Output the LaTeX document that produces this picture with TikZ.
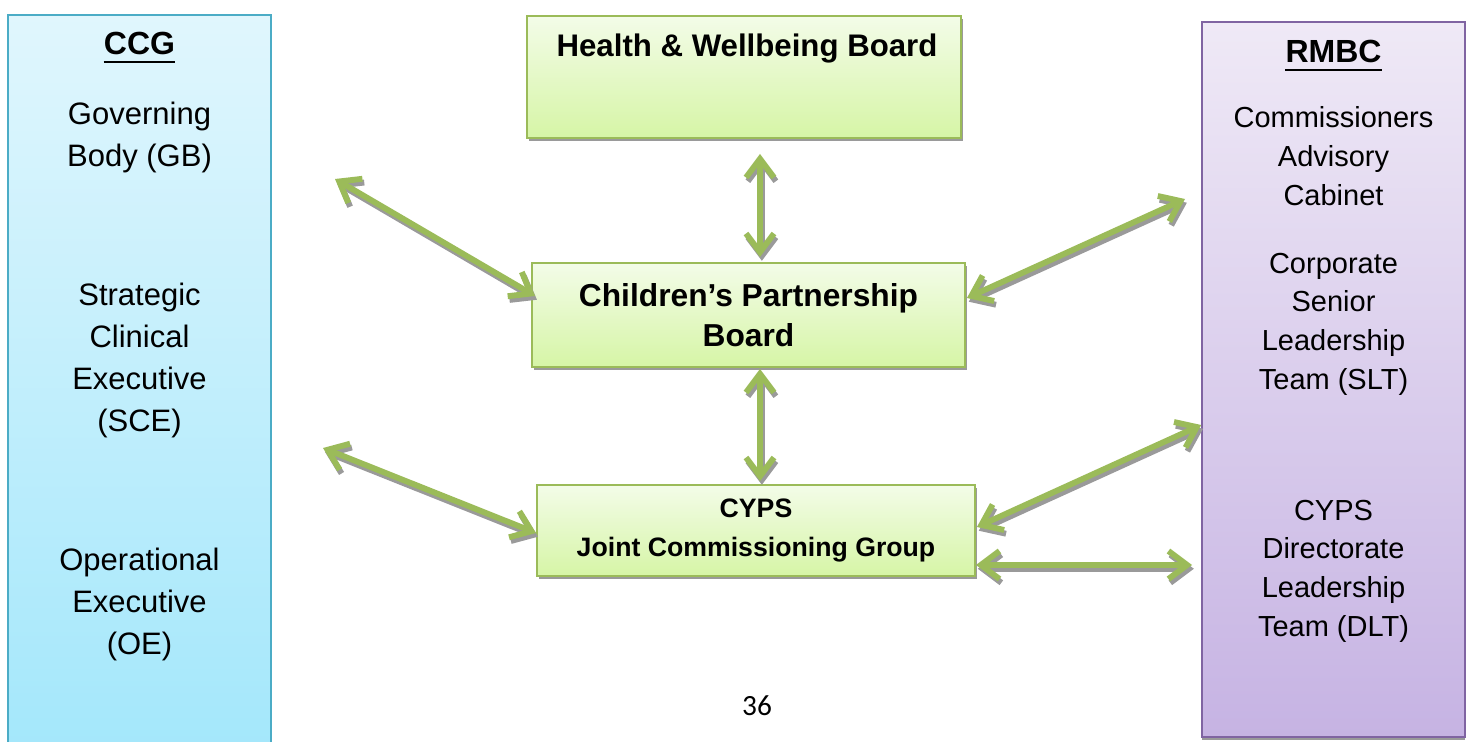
\documentclass[tikz,border=0pt]{standalone}
\usepackage{fontspec}
\setmainfont{Liberation Sans}
\newfontfamily\pagenumfont{Carlito}
\usetikzlibrary{arrows.meta,calc,shadows}

\definecolor{ccgtop}{HTML}{E0F6FD}
\definecolor{ccgbot}{HTML}{A3E7FB}
\definecolor{ccgline}{HTML}{4BACC6}
\definecolor{rmbctop}{HTML}{EFE9F6}
\definecolor{rmbcbot}{HTML}{C6B3E3}
\definecolor{rmbcline}{HTML}{8064A2}
\definecolor{boardtop}{HTML}{F3FCE8}
\definecolor{boardbot}{HTML}{D6F5A6}
\definecolor{boardline}{HTML}{9BBB59}
\definecolor{linkgreen}{HTML}{9BBB59}
\definecolor{shade}{HTML}{9A9A9A}

\tikzset{
  board/.style={draw=boardline, line width=1.4pt, top color=boardtop,
    bottom color=boardbot, inner sep=0pt,
    drop shadow={shadow xshift=1.5pt, shadow yshift=-2.5pt, fill=shade, opacity=1}},
  sidetitle/.style={anchor=base, inner sep=0pt, font=\fontsize{24}{30}\selectfont\bfseries},
  % multi-line nodes are placed by the baseline of their last line
  ccgtext/.style={anchor=base, inner sep=0pt, align=center,
    font=\fontsize{23.25}{31.5}\selectfont},
  rmbctext/.style={anchor=base, inner sep=0pt, align=center,
    font=\fontsize{21.75}{29}\selectfont},
  link/.style={draw=linkgreen, line width=4.4pt,
    {Straight Barb[length=14pt,width=21pt]}-{Straight Barb[length=14pt,width=21pt]}},
  underbar/.style={line width=2.2pt}
}

% All two-way links between the bodies; the argument adds options
% (used once for the grey shadow pass and once for the green links)
\newcommand\drawlinks[1]{%
  \draw[link,#1] (ccgA) -- ($(cpb.west)+(4,-19)$);
  \draw[link,#1] ($(cpb.east)+(1,-17)$) -- (rmbcA);
  \draw[link,#1] ($(hwb.south)+(16,15)$) -- ($(cpb.north)+(11.5,-5)$);
  \draw[link,#1] ($(cpb.south)+(11.5,1)$) -- ($(jcg.north)+(4,-3)$);
  \draw[link,#1] (ccgB) -- ($(jcg.west)+(0,2.5)$);
  \draw[link,#1] ($(jcg.east)+(1,-3.5)$) -- ($(rmbc.west)+(0,45.5)$);
  \draw[link,#1] ($(jcg.east)+(0,34.5)$) -- (rmbcC);
}

\begin{document}
\begin{tikzpicture}[x=0.75pt, y=-0.75pt]
  \useasboundingbox (0,0) rectangle (1467,742);

  % CCG column (runs off the bottom of the page)
  \begin{scope}
    \clip (0,0) rectangle (1467,742);
    \path[draw=ccgline, line width=1.2pt, top color=ccgtop, bottom color=ccgbot]
      (8,15) rectangle (271,760);
  \end{scope}
  \node[sidetitle] (ccg) at (139.5,55) {CCG};
  \draw[underbar] ($(ccg.base west)+(0,7)$) -- ($(ccg.base east)+(0,7)$);
  \node[ccgtext] (gb) at (139.5,166) {Governing\\Body (GB)};
  \node[ccgtext] (sce) at (139.5,431) {Strategic\\Clinical\\Executive\\(SCE)};
  \node[ccgtext] (oe) at (139.5,654) {Operational\\Executive\\(OE)};

  % RMBC column
  \node[draw=rmbcline, line width=1.2pt, top color=rmbctop, bottom color=rmbcbot,
    inner sep=0pt, minimum width=263*0.75pt, minimum height=715*0.75pt,
    drop shadow={shadow xshift=0pt, shadow yshift=-2.5pt, fill=shade, opacity=1}]
    (rmbc) at (1333.5,379.5) {};
  \node[sidetitle] (rmbctitle) at (1333.5,63) {RMBC};
  \draw[underbar] ($(rmbctitle.base west)+(0,7)$) -- ($(rmbctitle.base east)+(0,7)$);
  \node[rmbctext] (cab) at (1333.5,205) {Commissioners\\Advisory\\Cabinet};
  \node[rmbctext] (slt) at (1333.5,389) {Corporate\\Senior\\Leadership\\Team (SLT)};
  \node[rmbctext] (dlt) at (1333.5,636) {CYPS\\Directorate\\Leadership\\Team (DLT)};

  % Boards
  \node[board, minimum width=434*0.75pt, minimum height=122*0.75pt] (hwb) at (744,77) {};
  \node[anchor=base, inner sep=0pt, font=\fontsize{23.4}{30}\selectfont\bfseries]
    (hwbtext) at (747,57) {Health \& Wellbeing Board};

  \node[board, minimum width=433*0.75pt, minimum height=104*0.75pt, align=center,
    font=\fontsize{23.8}{30}\selectfont\bfseries] (cpb) at (748.5,315)
    {Children’s Partnership\\Board};

  \node[board, minimum width=438*0.75pt, minimum height=91*0.75pt, align=center,
    font=\fontsize{20}{29.25}\selectfont\bfseries] (jcg) at (756,530.5)
    {CYPS\\Joint Commissioning Group};

  % Free ends of the links
  \coordinate (ccgA) at (335,179);
  \coordinate (ccgB) at (323,448);
  \coordinate (rmbcA) at (1185,199);
  \coordinate (rmbcC) at (1192,565);

  % Links: grey shadow first, then the green arrows on top
  \begin{scope}[transform canvas={xshift=1.4pt, yshift=-2.8pt}]
    \drawlinks{draw=shade}
  \end{scope}
  \drawlinks{}

  % Page number
  \node[anchor=base, inner sep=0pt, font=\pagenumfont\fontsize{22}{26}\selectfont]
    (pagenum) at (757,715) {36};
\end{tikzpicture}
\end{document}
